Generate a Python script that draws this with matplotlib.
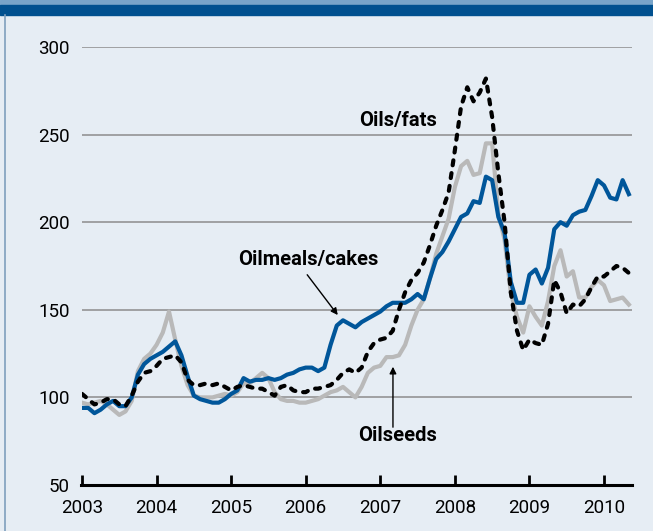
import numpy as np
import matplotlib
matplotlib.use('Agg')
from matplotlib import pyplot as plt
from matplotlib.patches import Rectangle
from matplotlib.lines import Line2D

plt.rcParams['font.family'] = ['Roboto', 'DejaVu Sans']

# Monthly index values, Jan 2003 .. May 2010
start_year = 2003
oilmeals = [94, 94, 91, 93, 96, 98, 95, 95, 100, 113, 119, 122,
            124, 126, 129, 132, 124, 112, 101, 99, 98, 97, 97, 99,
            102, 104, 111, 109, 110, 110, 111, 110, 111, 113, 114, 116,
            117, 117, 115, 117, 130, 141, 144, 142, 140, 143, 145, 147,
            149, 152, 154, 154, 154, 156, 159, 156, 168, 179, 183, 189,
            196, 203, 205, 212, 211, 226, 224, 203, 194, 166, 154, 154,
            170, 173, 165, 174, 196, 200, 198, 204, 206, 207, 215, 224,
            221, 214, 213, 224, 216]
oilseeds = [97, 96, 97, 98, 96, 93, 90, 92, 98, 115, 122, 125,
            130, 137, 149, 133, 118, 107, 101, 100, 100, 100, 101, 102,
            101, 103, 108, 108, 111, 114, 111, 103, 99, 98, 98, 97,
            97, 98, 99, 101, 103, 104, 106, 103, 100, 106, 114, 117,
            118, 123, 123, 124, 130, 141, 150, 156, 168, 182, 192, 202,
            220, 232, 235, 227, 228, 245, 245, 205, 190, 160, 146, 137,
            152, 146, 141, 155, 175, 184, 169, 172, 157, 157, 163, 167,
            164, 155, 156, 157, 153]
oilsfats = [102, 99, 96, 97, 99, 99, 96, 95, 101, 109, 114, 115,
            118, 122, 123, 124, 120, 110, 107, 107, 108, 107, 108, 106,
            104, 106, 107, 106, 105, 105, 103, 101, 106, 107, 104, 103,
            103, 105, 105, 106, 107, 110, 114, 116, 114, 117, 126, 131,
            133, 134, 138, 150, 160, 167, 171, 177, 187, 198, 207, 217,
            241, 266, 277, 269, 274, 282, 260, 228, 200, 160, 138, 127,
            133, 131, 130, 142, 167, 160, 148, 153, 152, 156, 163, 169,
            169, 172, 175, 174, 171]
years = list(range(2003, 2011))
yticks = [50, 100, 150, 200, 250, 300]

t = start_year + np.arange(len(oilmeals)) / 12.0

bg = '#e6edf4'
blue = '#00569a'
gray = '#b9b9b9'

fig = plt.figure(figsize=(6.53, 5.31), dpi=100, facecolor=bg)
# top bands and left border
fig.patches.append(Rectangle((0, 1 - 5 / 531), 1, 5 / 531, transform=fig.transFigure,
                             color='#78a4c9', zorder=0))
fig.patches.append(Rectangle((0, 1 - 15 / 531), 1, 10 / 531, transform=fig.transFigure,
                             color='#00508f', zorder=0))
fig.lines.append(Line2D([4.5 / 653, 4.5 / 653], [0, 1 - 15 / 531], transform=fig.transFigure,
                        color='#7f9fbd', lw=1.2))

ax = fig.add_axes([82 / 653, 1 - 485 / 531, 550 / 653, 438 / 531])
ax.set_facecolor(bg)
ax.set_xlim(2003, 2003 + 550 / 74.57)
ax.set_ylim(50, 300)

for v in yticks[1:]:
    ax.axhline(v, color='#8c8c8c', lw=1.1, zorder=1)

ax.plot(t, oilseeds, color=gray, lw=3, zorder=2, solid_joinstyle='round')
ax.plot(t, oilmeals, color=blue, lw=3, zorder=3, solid_joinstyle='round')
ax.plot(t, oilsfats, color='black', lw=3, zorder=4, dashes=(1.2, 1.9),
        dash_capstyle='round')

for s in ['top', 'right', 'left']:
    ax.spines[s].set_visible(False)
ax.spines['bottom'].set_linewidth(2.2)
ax.spines['bottom'].set_bounds(2003 - 0.02, 2003 + 550 / 74.57)

ax.set_xticks(years)
ax.set_xticklabels([str(y) for y in years])
ax.set_yticks(yticks)
ax.set_yticklabels([str(v) for v in yticks])
ax.tick_params(axis='x', direction='in', length=7, width=2, pad=10, labelsize=13.5)
ax.tick_params(axis='y', length=0, pad=9, labelsize=13.5)

ax.text(2007.24, 258, 'Oils/fats', fontsize=14.5, fontweight='bold', ha='center', va='center')
ax.text(2006.03, 178.5, 'Oilmeals/cakes', fontsize=14.5, fontweight='bold', ha='center', va='center')
ax.text(2007.23, 78, 'Oilseeds', fontsize=14.5, fontweight='bold', ha='center', va='center')

ax.annotate('', xy=(2006.43, 147), xytext=(2006.02, 170),
            arrowprops=dict(arrowstyle='-|>', color='black', lw=1, mutation_scale=10,
                            shrinkA=0, shrinkB=0))
ax.annotate('', xy=(2007.17, 117.5), xytext=(2007.17, 83),
            arrowprops=dict(arrowstyle='-|>', color='black', lw=1, mutation_scale=10,
                            shrinkA=0, shrinkB=0))

fig.savefig('out.png', dpi=100, facecolor=bg)
